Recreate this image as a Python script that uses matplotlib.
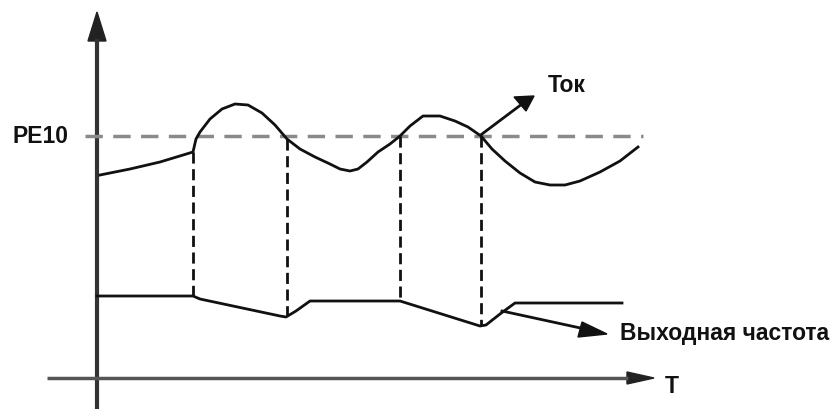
import matplotlib.pyplot as plt

# picture space: x to the right, y downwards (pixels of the 840x410 sketch)
W, H = 840, 410

# current curve (Ток)
cur_x = [100, 130, 160, 193, 196, 200, 210, 222, 235, 248, 262, 275, 287, 300,
         315, 330, 340, 350, 358, 367, 378, 390, 400, 410, 423, 440, 455, 468,
         481, 492, 505, 520, 535, 550, 565, 580, 600, 620, 638]
cur_y = [176, 170, 163, 153, 140, 133, 120, 110, 105, 106, 114, 126, 140, 150,
         158, 165, 170, 172, 170, 163, 153, 145, 137, 127, 117, 117, 122, 128,
         137, 150, 162, 174, 183, 186, 186, 182, 173, 162, 148]

# output frequency (Выходная частота)
freq_x = [97, 193, 200, 280, 286, 296, 310, 400, 480, 486, 500, 515, 622]
freq_y = [297, 297, 300, 317, 318, 312, 302, 302, 327, 326, 315, 304, 304]

# PE10 level and the moments where current crosses it
pe10_level = 137
cross_t = [193, 287, 400, 481]
cross_top = [153, 140, 137, 137]
cross_bot = [297, 316, 302, 326]

fig = plt.figure(figsize=(W / 100, H / 100), dpi=100)
ax = fig.add_axes([0, 0, 1, 1])
ax.set_xlim(0, W)
ax.set_ylim(H, 0)
ax.axis('off')

font = dict(family=['Liberation Sans', 'DejaVu Sans'], fontweight='bold',
            fontsize=16.5, color='#111111')

# axes with arrows
ax.plot([97, 97], [H, 40], color='#333333', lw=3, solid_capstyle='butt')
ax.fill([88, 106, 97], [42, 42, 13], color='#222222')
ax.plot([47, 628], [379, 379], color='#555555', lw=2.5, solid_capstyle='butt')
ax.fill([627, 627, 654], [373, 385, 379], color='#222222')

# PE10 dashed level
ax.plot([85, 643], [pe10_level, pe10_level], color='#8a8a8a', lw=2.5,
        dashes=(5, 3))

# vertical dashed lines at crossings
ax.vlines(cross_t, cross_top, cross_bot, colors='#111111', lw=2,
          linestyles=(0, (4, 2)))

# curves
ax.plot(cur_x, cur_y, color='#111111', lw=2)
ax.plot(freq_x, freq_y, color='#111111', lw=2)

# pointer arrows
ax.plot([482, 522], [135, 105], color='#111111', lw=2)
ax.fill([514, 526, 534], [98, 112, 97], color='#111111')
ax.plot([502, 585], [312, 330], color='#111111', lw=2)
ax.fill([582, 578, 607], [323, 338, 335], color='#111111')

# labels
ax.text(12, pe10_level, 'PE10', ha='left', va='center', **font)
ax.text(548, 86, 'Ток', ha='left', va='center', **font)
ax.text(620, 334, 'Выходная частота', ha='left', va='center', **font)
ax.text(665, 387, 'T', ha='left', va='center', **font)

fig.savefig('out.png', dpi=100)
